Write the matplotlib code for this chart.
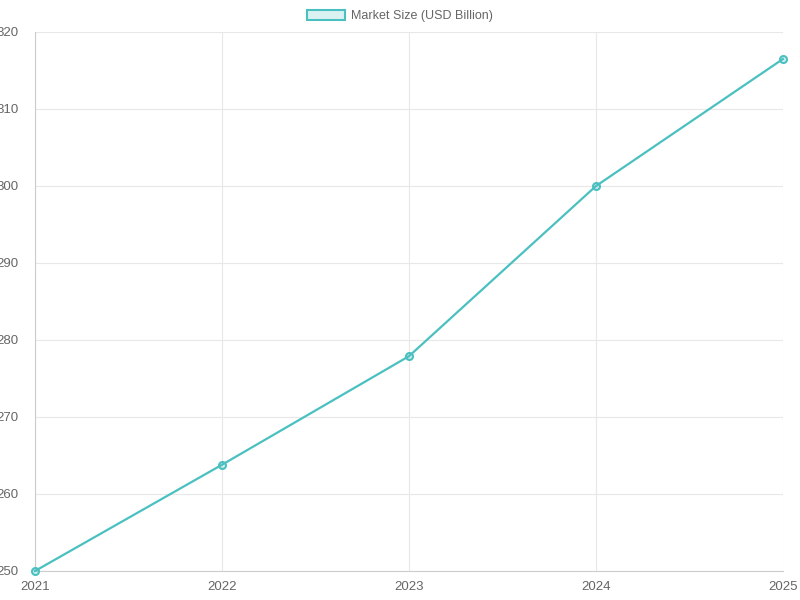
import matplotlib
matplotlib.use('Agg')
import matplotlib.pyplot as plt
from matplotlib.patches import Patch

plt.rcParams['font.family'] = ['Liberation Sans', 'DejaVu Sans']

years = ['2021', '2022', '2023', '2024', '2025']
market_size = [250.0, 263.8, 277.9, 300.0, 316.5]

TEAL = '#4BC0C0'

fig = plt.figure(figsize=(8, 6), dpi=100)
ax = fig.add_axes([35 / 800, 1 - 571 / 600, (783 - 35) / 800, (571 - 32) / 600])

x = range(len(years))
ax.plot(x, market_size, color=TEAL, linewidth=1.6, marker='o', markersize=5,
        markerfacecolor=(75 / 255, 192 / 255, 192 / 255, 0.2), markeredgecolor=TEAL,
        markeredgewidth=1.5, clip_on=False, zorder=3)

ax.set_xlim(0, len(years) - 1)
ax.set_ylim(250, 320)
ax.set_xticks(list(x))
ax.set_xticklabels(years)
ax.set_yticks(range(250, 321, 10))

ax.grid(color='#e8e8e8', linewidth=0.8)
for side in ['top', 'right']:
    ax.spines[side].set_visible(False)
for side in ['left', 'bottom']:
    ax.spines[side].set_color('#cccccc')
ax.tick_params(colors='#666666', labelsize=9.5, length=0, pad=7)
ax.tick_params(axis='y', pad=12)

handle = Patch(facecolor=(75 / 255, 192 / 255, 192 / 255, 0.2), edgecolor=TEAL, linewidth=1.5)
fig.legend([handle], ['Market Size (USD Billion)'], loc='center', bbox_to_anchor=(0.5, 1 - 16 / 600),
           frameon=False, fontsize=9, labelcolor='#666666', handlelength=3, handleheight=0.9,
           handletextpad=0.5)

plt.savefig('out.png', dpi=100)
